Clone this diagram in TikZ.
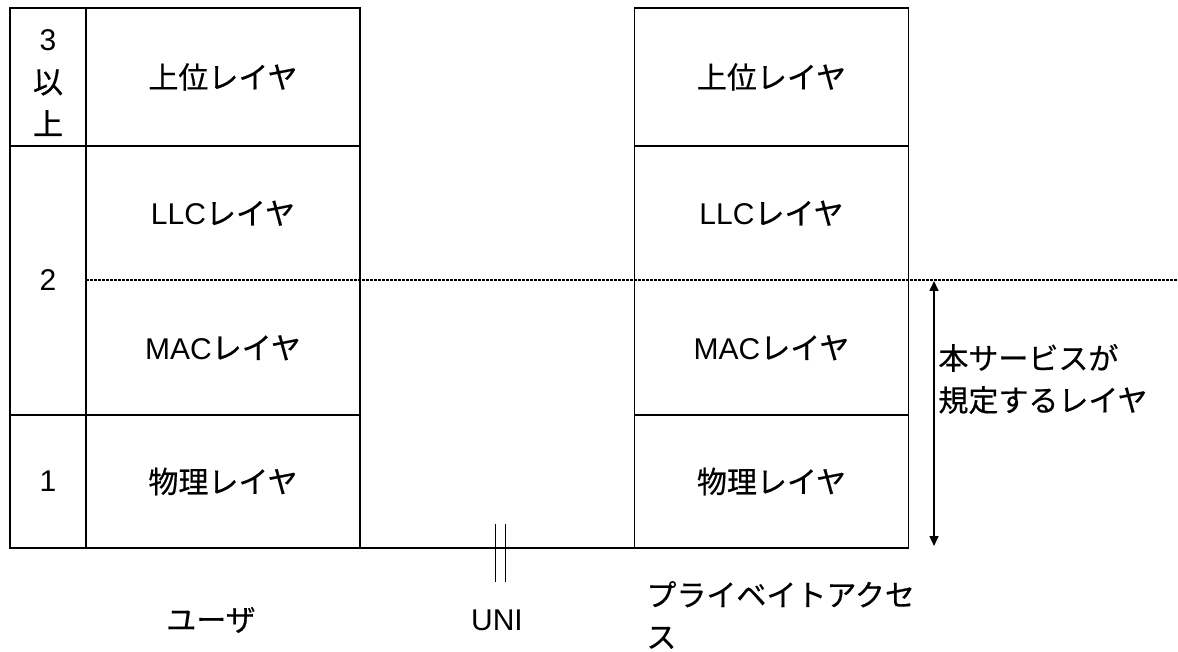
\documentclass[tikz,border=0pt]{standalone}
\usepackage{fontspec}
\setmainfont{Liberation Sans}
\newfontfamily\jpfont{Noto Sans CJK JP}[FakeBold=0.5]
\usetikzlibrary{arrows.meta,positioning,calc}

\newcommand{\jtext}[1]{{\jpfont #1}}
\newcommand{\lblsize}{\fontsize{15}{21}\selectfont}

\begin{document}
\begin{tikzpicture}[x=0.5pt,y=-0.5pt,font=\lblsize]
	\tikzset{cell/.style={draw, line width=0.85pt, minimum width=137pt,
	  inner sep=0pt, outer sep=0pt},
	  numcell/.style={cell, minimum width=38pt, align=center},
	  sepline/.style={line width=1pt, dash pattern=on 1.5pt off 0.5pt},
	  unitick/.style={line width=0.5pt}}
	\useasboundingbox (0,0) rectangle (1178,652);

	% user side stack
	\node[cell, minimum height=69pt] (upL)
	  at (223,77) {\jtext{上位レイヤ}};
	\node[cell, minimum height=134.5pt] (l2L)
	  [below=0pt of upL] {};
	\node[cell, minimum height=66.5pt] (phL)
	  [below=0pt of l2L] {\jtext{物理レイヤ}};
	\node[numcell, minimum height=69pt] (n3)
	  [left=0pt of upL] {};
	\node[numcell, minimum height=134.5pt] (n2)
	  [left=0pt of l2L] {2};
	\node[numcell, minimum height=66.5pt] (n1)
	  [left=0pt of phL] {1};
	\node[align=center] (n3txt) at ($(n3.center)+(0,6)$)
	  {3\\\jtext{以}\\\jtext{上}};
	\node (llcL) at ($(l2L.north)!.25!(l2L.south)$) {LLC\jtext{レイヤ}};
	\node (macL) at ($(l2L.north)!.75!(l2L.south)$) {MAC\jtext{レイヤ}};

	% private access side stack
	\node[cell, minimum height=69pt] (upR)
	  at (771.5,77) {\jtext{上位レイヤ}};
	\node[cell, minimum height=134.5pt] (l2R)
	  [below=0pt of upR] {};
	\node[cell, minimum height=66.5pt] (phR)
	  [below=0pt of l2R] {\jtext{物理レイヤ}};
	\node (llcR) at ($(l2R.north)!.25!(l2R.south)$) {LLC\jtext{レイヤ}};
	\node (macR) at ($(l2R.north)!.75!(l2R.south)$) {MAC\jtext{レイヤ}};

	% ground line and UNI
	\draw[line width=0.85pt] (phL.south east) -- (phR.south west);
	\coordinate (uniAtop) at (495,524);
	\coordinate (uniAbot) at (495,582);
	\coordinate (uniBtop) at (505,524);
	\coordinate (uniBbot) at (505,582);
	\draw[unitick] (uniAtop) -- (uniAbot);
	\draw[unitick] (uniBtop) -- (uniBbot);

	% scope of the service
	\coordinate (dashend) at (1178,280.5);
	\draw[sepline] (n2.east) -- (dashend);
	\coordinate (arrtop) at (934,281);
	\coordinate (arrbot) at (934,546);
	\draw[line width=0.8pt, {Triangle[length=5pt,width=4.5pt]}-{Triangle[length=5pt,width=4.5pt]}]
	  (arrtop) -- (arrbot);
	\node[anchor=west, align=left, inner sep=0pt] (scope)
	  at (938,379) {\jtext{本サービスが}\\\jtext{規定するレイヤ}};

	% captions
	\node (user) at (211,620) {\jtext{ユーザ}};
	\node (uni) at (497,620) {UNI};
	\node[anchor=west, align=left, inner sep=0pt] (priv)
	  at (646,615) {\jtext{プライベイトアクセ}\\\jtext{ス}};
\end{tikzpicture}
\end{document}
